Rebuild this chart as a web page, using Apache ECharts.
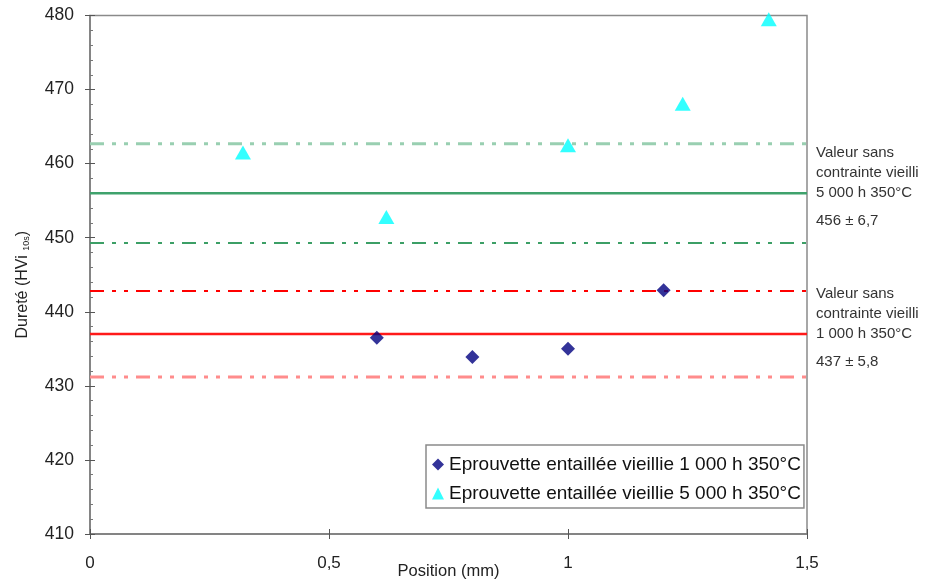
<!DOCTYPE html>
<html><head><meta charset="utf-8">
<script src="https://cdn.jsdelivr.net/npm/echarts@6/dist/echarts.min.js"></script>
<style>html,body{margin:0;padding:0;background:#fff}#c{width:925px;height:584px}</style>
</head><body><div id="c"></div>
<script>
// Data
const pos1000 = [0.6, 0.8, 1.0, 1.2];
const hard1000 = [436.5, 433.9, 435.0, 442.9];
const pos5000 = [0.32, 0.62, 1.0, 1.24, 1.42];
const hard5000 = [461.5, 452.8, 462.5, 468.1, 479.5];
const ref5000 = { mean: 456, dev: 6.7 };
const ref1000 = { mean: 437, dev: 5.8 };
const xTicks = { min: 0, max: 1.5, interval: 0.5 };
const yTicks = { min: 410, max: 480, interval: 10 };
const legendNames = ['Eprouvette entaillée vieillie 1 000 h 350°C', 'Eprouvette entaillée vieillie 5 000 h 350°C'];
const annot5000 = ['Valeur sans', 'contrainte vieilli', '5 000 h 350°C', '456 ± 6,7'];
const annot1000 = ['Valeur sans', 'contrainte vieilli', '1 000 h 350°C', '437 ± 5,8'];

const FONT = 'Arial, "Liberation Sans", sans-serif';
const chart = echarts.init(document.getElementById('c'), null, { renderer: 'canvas' });
const dashDot2 = [14, 8, 4, 8, 4, 8];

function hline(name, y, color, width, type) {
  return {
    name: name, type: 'line', xAxisIndex: 0, yAxisIndex: 0,
    data: [[xTicks.min, y], [xTicks.max, y]], symbol: 'none', silent: true,
    lineStyle: { color: color, width: width, type: type }, z: 1
  };
}
const fmt = v => String(v).replace('.', ',');

const option = {
  animation: false,
  grid: { left: 90, right: 118, top: 15.5, bottom: 50, outerBoundsMode: 'none', containLabel: false, show: true, borderColor: '#8a8a8a', borderWidth: 1.5, backgroundColor: '#fff' },
  xAxis: [{
    type: 'value', min: xTicks.min, max: xTicks.max, interval: xTicks.interval,
    name: 'Position (mm)', nameLocation: 'middle', nameGap: 29, nameMoveOverlap: false,
    nameTextStyle: { fontFamily: FONT, fontSize: 16.5, color: '#222' },
    axisLine: { lineStyle: { color: '#7a7a7a', width: 1.5 } },
    axisTick: { show: true, length: 5, lineStyle: { color: '#555' } },
    axisLabel: { fontFamily: FONT, fontSize: 17, color: '#222', margin: 21, formatter: fmt },
    splitLine: { show: false }
  }, {
    type: 'value', min: xTicks.min, max: xTicks.max, interval: xTicks.interval, position: 'bottom',
    axisLine: { show: false }, axisLabel: { show: false }, splitLine: { show: false },
    axisTick: { show: true, inside: true, length: 5, lineStyle: { color: '#555' } }
  }],
  yAxis: [{
    type: 'value', min: yTicks.min, max: yTicks.max, interval: yTicks.interval,
    name: '{a|Dureté (HVi }{b|10s}{a|)}', nameLocation: 'middle', nameGap: 59, nameRotate: 90, nameMoveOverlap: false,
    nameTextStyle: { padding: [0, 20, 0, 0], rich: { a: { fontFamily: FONT, fontSize: 16, color: '#222' }, b: { fontFamily: FONT, fontSize: 9, color: '#222', verticalAlign: 'bottom' } } },
    axisLine: { show: true, lineStyle: { color: '#7a7a7a', width: 1.5 } },
    axisTick: { show: true, length: 5, lineStyle: { color: '#555' } },
    axisLabel: { fontFamily: FONT, fontSize: 17.5, color: '#222', margin: 16 },
    splitLine: { show: false }
  }, {
    type: 'value', min: yTicks.min, max: yTicks.max, interval: yTicks.interval, position: 'left',
    axisLine: { show: false }, axisLabel: { show: false }, splitLine: { show: false },
    axisTick: { show: true, inside: true, length: 5, lineStyle: { color: '#555' } },
    minorTick: { show: true, splitNumber: 5, length: 3, lineStyle: { color: '#777' } }
  }],
  legend: {
    left: 426, top: 445, orient: 'vertical', data: legendNames,
    backgroundColor: '#fff', borderColor: '#8a8a8a', borderWidth: 1.5, padding: [10, 3, 5, 6], itemGap: 10,
    itemWidth: 12, itemHeight: 12,
    textStyle: { fontFamily: FONT, fontSize: 19, color: '#111' }
  },
  series: [
    hline('l5u', ref5000.mean + ref5000.dev, '#99cfb1', 3, dashDot2),
    hline('l5m', ref5000.mean, '#3fa26c', 2.5, 'solid'),
    hline('l5d', ref5000.mean - ref5000.dev, '#3c9f66', 2, dashDot2),
    hline('l1u', ref1000.mean + ref1000.dev, '#ff0000', 2, dashDot2),
    hline('l1m', ref1000.mean, '#ff1a1a', 2.5, 'solid'),
    hline('l1d', ref1000.mean - ref1000.dev, '#ff8c8c', 3, dashDot2),
    {
      name: legendNames[0], type: 'scatter', symbol: 'diamond', symbolSize: 14,
      itemStyle: { color: '#000080' }, z: 5,
      data: pos1000.map((x, i) => [x, hard1000[i]])
    },
    {
      name: legendNames[1], type: 'scatter', symbol: 'triangle', symbolSize: [16, 14],
      itemStyle: { color: '#00ffff' }, z: 5,
      data: pos5000.map((x, i) => [x, hard5000[i]])
    }
  ]
};
chart.setOption(option);

function annot(lines, yMean) {
  const yLine = chart.convertToPixel({ xAxisIndex: 0, yAxisIndex: 0 }, [xTicks.max, yMean])[1];
  const x = 816;
  const st = { fontFamily: FONT, fontSize: 15, fill: '#333', lineHeight: 20 };
  return [
    { type: 'text', left: x, top: yLine - 50, style: Object.assign({ text: lines.slice(0, 3).join('\n') }, st) },
    { type: 'text', left: x, top: yLine + 17.5, style: Object.assign({ text: lines[3] }, st) }
  ];
}
chart.setOption({ graphic: annot(annot5000, ref5000.mean).concat(annot(annot1000, ref1000.mean)) });
</script></body></html>
